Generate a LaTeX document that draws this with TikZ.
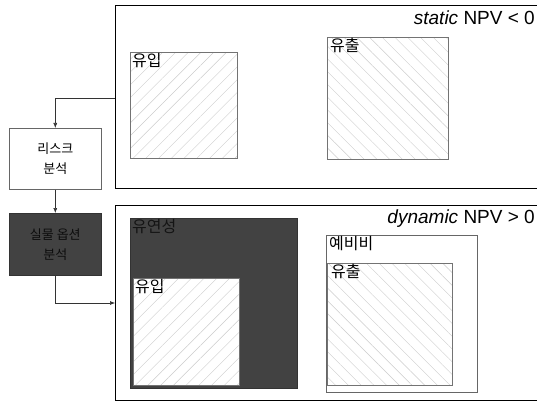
\documentclass[tikz,border=0pt]{standalone}
\usepackage{fontspec}
\setmainfont{Liberation Sans}
\newfontfamily\kr{Noto Sans CJK KR}
\usetikzlibrary{arrows.meta,patterns.meta}
\begin{document}
\begin{tikzpicture}[x=1pt,y=-1pt,
  bigbox/.style={draw=black,line width=1pt,anchor=north west,inner sep=0pt},
  smallbox/.style={draw=black!60,line width=0.6pt,fill=white,anchor=north west,inner sep=0pt},
  darkbox/.style={draw=black!80,line width=0.6pt,fill=black!74,anchor=north west,inner sep=0pt},
  hatchne/.style={draw=black!55,line width=0.6pt,anchor=north west,inner sep=0pt,
    pattern={Lines[angle=45,distance=9pt,line width=0.4pt]},pattern color=black!20},
  hatchnw/.style={draw=black!55,line width=0.6pt,anchor=north west,inner sep=0pt,
    pattern={Lines[angle=-45,distance=9pt,line width=0.4pt]},pattern color=black!20},
  lbl/.style={anchor=north west,inner sep=0pt,font=\kr\fontsize{16}{16}\selectfont},
  npv/.style={anchor=north east,inner sep=0pt,font=\fontsize{19}{19}\selectfont},
  conn/.style={draw=black!80,line width=0.6pt,-{Latex[length=5pt,width=4pt]}}]
\useasboundingbox (0,0) rectangle (537,406);
\clip (0,0) rectangle (537,406);
% top panel
\node[bigbox,minimum width=430pt,minimum height=183pt] (top) at (115,5) {};
\node[npv] (tnpv) at (535,11) {\textit{static} NPV < 0};
\node[hatchne,minimum width=107pt,minimum height=106pt] (tin) at (130,52) {};
\node[lbl] (tinl) at (132,53) {유입};
\node[hatchnw,minimum width=121pt,minimum height=122pt] (tout) at (327,37) {};
\node[lbl] (toutl) at (330,38) {유출};
% bottom panel
\node[bigbox,minimum width=430pt,minimum height=195pt] (bot) at (115,205) {};
\node[npv] (bnpv) at (535,210) {\textit{dynamic} NPV > 0};
\node[darkbox,minimum width=167pt,minimum height=170pt] (flex) at (130,218) {};
\node[lbl,text=black!92] (flexl) at (132,219) {유연성};
\node[smallbox,minimum width=106pt,minimum height=107pt] (binbg) at (133,278) {};
\node[hatchne,minimum width=106pt,minimum height=107pt] (bin) at (133,278) {};
\node[lbl] (binl) at (135,279) {유입};
\node[smallbox,minimum width=151pt,minimum height=157pt] (cont) at (326,235) {};
\node[lbl] (contl) at (329,236) {예비비};
\node[hatchnw,minimum width=125pt,minimum height=122pt] (bout) at (327,263) {};
\node[lbl] (boutl) at (331,264) {유출};
% left boxes
\node[smallbox,minimum width=92pt,minimum height=61pt] (risk) at (9,128) {};
\node[align=center,font=\kr\fontsize{13}{20}\selectfont] (riskl) at (risk.center) {리스크\\분석};
\node[darkbox,minimum width=92pt,minimum height=62pt] (ro) at (9,213) {};
\node[align=center,text=black!95,font=\kr\fontsize{13}{20}\selectfont] (rol) at (ro.center) {실물 옵션\\분석};
% connectors
\coordinate (c1) at (115,98);
\draw[conn] (c1) -| (risk.north);
\draw[conn] (risk.south) -- (ro.north);
\draw[conn] (ro.south) |- (bot.west |- 0,303);
\end{tikzpicture}
\end{document}
